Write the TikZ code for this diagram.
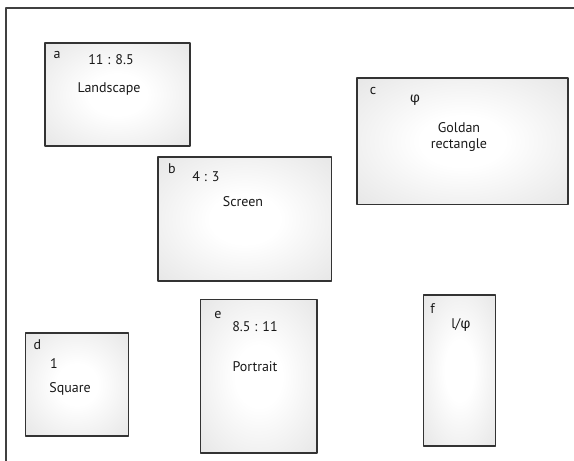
\documentclass[tikz,border=0pt]{standalone}
\usepackage{fontspec}
\setmainfont{PT Sans}
\newfontfamily\greekfont{Fira Sans}
\pgfdeclareradialshading{glow}{\pgfpointorigin}{color(0bp)=(white);color(10bp)=(white);color(50bp)=(black!15);color(71bp)=(black!20)}
\begin{document}
\begin{tikzpicture}[x=1pt,y=-1pt,line join=round]
	\tikzset{box/.style={draw=black!80,line width=1.3pt,shading=glow,inner sep=0pt},
		lbl/.style={font=\fontsize{14}{16}\selectfont,inner sep=0pt,text=black!90},
		tag/.style={lbl}}
	\useasboundingbox (0,0) rectangle (574,461);
	\draw[line width=1.4pt,black!75] (6,461)--(6,8)--(574,8);
	% boxes: name/centre x/centre y/width/height
	\foreach \nm/\cx/\cy/\w/\h in {landscape/117.5/94.5/145/103,screen/244.75/219/173.5/124,
		golden/462.5/141.25/211/126.5,square/77/384.5/103/103,
		portrait/258.75/376.25/116.5/153.5,inverse/459.5/370.5/72/151}
	\node[box,minimum width=\w,minimum height=\h] (\nm) at (\cx,\cy) {};
	% a
	\node[tag] (a-tag) at (57,55) {a};
	\node[lbl] (a-ratio) at (111,60) {11 : 8.5};
	\node[lbl] (a-name) at (109,89) {Landscape};
	% b
	\node[tag] (b-tag) at (172,169) {b};
	\node[lbl] (b-ratio) at (206,177) {4 : 3};
	\node[lbl] (b-name) at (243,202) {Screen};
	% c
	\node[tag] (c-tag) at (373,91) {c};
	\node[lbl] (c-ratio) at (415,100) {\greekfont φ};
	\node[lbl,align=center] (c-name) at (459,137) {Goldan\\rectangle};
	% d
	\node[tag] (d-tag) at (37.5,345) {d};
	\node[lbl] (d-ratio) at (54,364) {1};
	\node[lbl] (d-name) at (70,389) {Square};
	% e
	\node[tag] (e-tag) at (218,315) {e};
	\node[lbl] (e-ratio) at (255,327) {8.5 : 11};
	\node[lbl] (e-name) at (255,366.5) {Portrait};
	% f
	\node[tag] (f-tag) at (432.5,309) {f};
	\node[lbl] (f-ratio) at (461,325) {l/{\greekfont φ}};
\end{tikzpicture}
\end{document}
